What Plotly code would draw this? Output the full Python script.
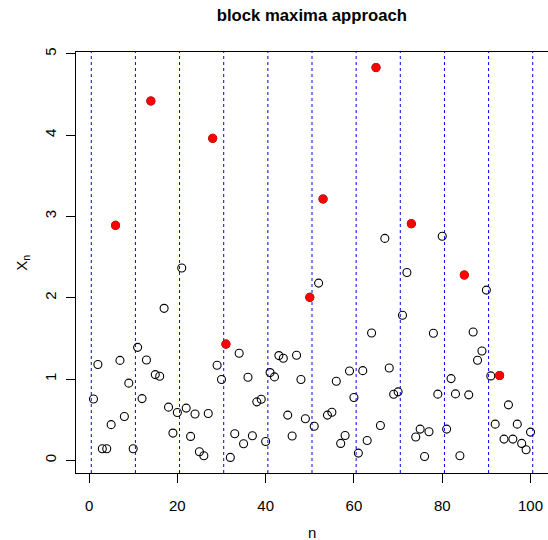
import plotly.graph_objects as go

n = list(range(1, 101))
X = [0.755, 1.18, 0.143, 0.143, 0.44, 2.89, 1.23, 0.54, 0.95, 0.144,
     1.39, 0.76, 1.235, 4.42, 1.055, 1.035, 1.87, 0.655, 0.336, 0.59,
     2.365, 0.643, 0.295, 0.57, 0.107, 0.058, 0.577, 3.96, 1.17, 0.994,
     1.43, 0.037, 0.328, 1.318, 0.205, 1.023, 0.303, 0.72, 0.753, 0.233,
     1.08, 1.027, 1.289, 1.256, 0.557, 0.30, 1.293, 0.994, 0.512, 2.005,
     0.42, 2.18, 3.215, 0.557, 0.593, 0.974, 0.209, 0.307, 1.10, 0.773,
     0.09, 1.104, 0.245, 1.567, 4.83, 0.43, 2.73, 1.137, 0.814, 0.843,
     1.784, 2.31, 2.91, 0.287, 0.385, 0.049, 0.352, 1.563, 0.815, 2.757,
     0.385, 1.006, 0.818, 0.058, 2.28, 0.806, 1.579, 1.232, 1.346, 2.094,
     1.039, 0.446, 1.045, 0.262, 0.683, 0.262, 0.446, 0.209, 0.131, 0.348]

block_size = 10
block_edges = [0.5, 10.5, 20.5, 30.5, 40.5, 50.5, 60.5, 70.5, 80.5, 90.5, 100.5]
x_ticks = [0, 20, 40, 60, 80, 100]
y_ticks = [0, 1, 2, 3, 4, 5]

# block maxima
max_n, max_x = [], []
for b in range(0, len(X), block_size):
    blk = X[b:b + block_size]
    i = blk.index(max(blk))
    max_n.append(n[b + i])
    max_x.append(blk[i])

FONT = "Liberation Sans, Arial, Helvetica, sans-serif"

W, H = 548, 540
L, R, T, B = 75.7, 0, 51.7, 67.3
PW, PH = W - L - R, H - T - B

fig = go.Figure()
fig.add_trace(go.Scatter(
    x=n, y=X, mode="markers",
    marker=dict(symbol="circle-open", size=8, color="black", line=dict(width=1.1, color="black")),
    showlegend=False, hoverinfo="skip"))
fig.add_trace(go.Scatter(
    x=max_n, y=max_x, mode="markers",
    marker=dict(symbol="circle", size=9, color="red", line=dict(width=0)),
    showlegend=False, hoverinfo="skip"))

for e in block_edges:
    fig.add_shape(type="line", xref="x", yref="paper", x0=e, x1=e, y0=0, y1=1,
                  line=dict(color="blue", width=1, dash="3px,3px"), layer="below")

xmin, xmax = min(n), max(n)
ymin, ymax = min(X), max(X)
dx, dy = (xmax - xmin) * 0.04, (ymax - ymin) * 0.04

axis_common = dict(
    showline=True, linecolor="black", linewidth=1, mirror=True,
    ticks="outside", ticklen=9, tickcolor="black", tickwidth=1,
    showgrid=False, zeroline=False,
    tickfont=dict(family=FONT, size=15, color="black"),
)

fig.update_xaxes(range=[xmin - dx, xmax + dx], tickvals=x_ticks, ticklabelstandoff=10, **axis_common)
fig.update_yaxes(range=[ymin - dy, ymax + dy], tickvals=y_ticks, tickangle=-90, ticklabelstandoff=4, **axis_common)

fig.update_layout(
    width=W, height=H,
    margin=dict(l=L, r=R, t=T, b=B, autoexpand=False),
    plot_bgcolor="white", paper_bgcolor="white",
    title=dict(text="<b>block maxima approach</b>", x=(L + W) / 2 / W, xanchor="center",
               y=1 - 15 / H, yanchor="middle",
               font=dict(family=FONT, size=16.7, color="black")),
    annotations=[
        dict(text="n", xref="paper", yref="paper", x=0.5, y=-(532 - (T + PH)) / PH,
             xanchor="center", yanchor="middle", showarrow=False,
             font=dict(family=FONT, size=15, color="black")),
        dict(text="X<sub>n</sub>", xref="paper", yref="paper", x=-(L - 22) / PW, y=0.5,
             xanchor="center", yanchor="middle", textangle=-90, showarrow=False,
             font=dict(family=FONT, size=15, color="black")),
    ],
)

fig.write_html(
    "out.html",
    config={"displayModeBar": False},
    post_script="document.body.style.margin='0';document.body.style.overflow='hidden';",
)
